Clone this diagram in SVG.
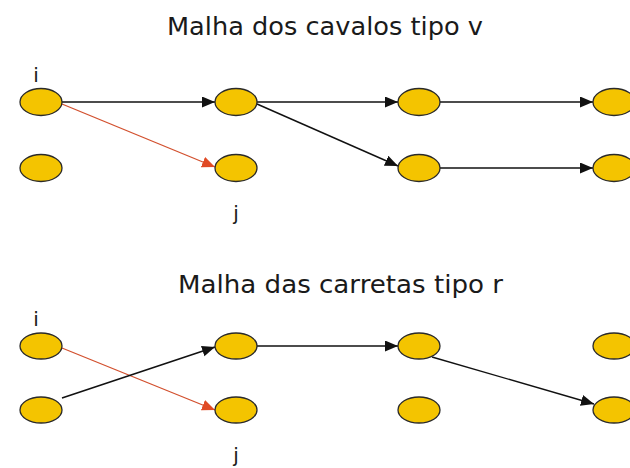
<svg xmlns="http://www.w3.org/2000/svg" width="630" height="468" viewBox="0 0 630 468">
<style>
.n{fill:#f4c400;stroke:#2a2a2a;stroke-width:1.3}
.t{font-family:"DejaVu Sans",Verdana,sans-serif;fill:#1a1a1a}
.k{stroke:#111;stroke-width:1.4;fill:none}
.r{stroke:#d2502e;stroke-width:1.3;fill:none}
</style>
<defs>
<marker id="ak" markerUnits="userSpaceOnUse" markerWidth="14" markerHeight="12" refX="13" refY="5.5" orient="auto"><path d="M0,0 L13,5.5 L0,11 z" fill="#111"/></marker>
<marker id="ar" markerUnits="userSpaceOnUse" markerWidth="14" markerHeight="12" refX="13" refY="5.5" orient="auto"><path d="M0,0 L13,5.5 L0,11 z" fill="#e04a25"/></marker>
</defs>
<text class="t" x="167" y="35" font-size="25" textLength="316" lengthAdjust="spacingAndGlyphs">Malha dos cavalos tipo v</text>
<text class="t" x="178" y="293" font-size="25" textLength="325" lengthAdjust="spacingAndGlyphs">Malha das carretas tipo r</text>
<g id="connectors">
<line class="k" x1="62" y1="102" x2="215" y2="102" marker-end="url(#ak)"/>
<line class="k" x1="257" y1="102" x2="398" y2="102" marker-end="url(#ak)"/>
<line class="k" x1="440" y1="102" x2="593" y2="102" marker-end="url(#ak)"/>
<line class="k" x1="257" y1="104" x2="398" y2="166" marker-end="url(#ak)"/>
<line class="k" x1="440" y1="168" x2="593" y2="168" marker-end="url(#ak)"/>
<line class="r" x1="62" y1="104" x2="215" y2="167" marker-end="url(#ar)"/>
<line class="r" x1="62" y1="348" x2="215" y2="410" marker-end="url(#ar)"/>
<line class="k" x1="62" y1="398" x2="215" y2="347" marker-end="url(#ak)"/>
<line class="k" x1="257" y1="346" x2="398" y2="346" marker-end="url(#ak)"/>
<line class="k" x1="432" y1="357" x2="594" y2="404" marker-end="url(#ak)"/>
</g>
<g id="top-1-1"><ellipse class="n" cx="41" cy="102" rx="21" ry="13.5"/><text class="t" x="36" y="82" font-size="20" text-anchor="middle">i</text></g>
<g id="top-1-2"><ellipse class="n" cx="236" cy="102" rx="21" ry="13.5"/></g>
<g id="top-1-3"><ellipse class="n" cx="419" cy="102" rx="21" ry="13.5"/></g>
<g id="top-1-4"><ellipse class="n" cx="614" cy="102" rx="21" ry="13.5"/></g>
<g id="top-2-1"><ellipse class="n" cx="41" cy="168" rx="21" ry="13.5"/></g>
<g id="top-2-2"><ellipse class="n" cx="236" cy="168" rx="21" ry="13.5"/><text class="t" x="236" y="220" font-size="20" text-anchor="middle">j</text></g>
<g id="top-2-3"><ellipse class="n" cx="419" cy="168" rx="21" ry="13.5"/></g>
<g id="top-2-4"><ellipse class="n" cx="614" cy="168" rx="21" ry="13.5"/></g>
<g id="bot-1-1"><ellipse class="n" cx="41" cy="346" rx="21" ry="13"/><text class="t" x="36" y="326" font-size="20" text-anchor="middle">i</text></g>
<g id="bot-1-2"><ellipse class="n" cx="236" cy="346" rx="21" ry="13"/></g>
<g id="bot-1-3"><ellipse class="n" cx="419" cy="346" rx="21" ry="13"/></g>
<g id="bot-1-4"><ellipse class="n" cx="614" cy="346" rx="21" ry="13"/></g>
<g id="bot-2-1"><ellipse class="n" cx="41" cy="410" rx="21" ry="13"/></g>
<g id="bot-2-2"><ellipse class="n" cx="236" cy="410" rx="21" ry="13"/><text class="t" x="236" y="462" font-size="20" text-anchor="middle">j</text></g>
<g id="bot-2-3"><ellipse class="n" cx="419" cy="410" rx="21" ry="13"/></g>
<g id="bot-2-4"><ellipse class="n" cx="614" cy="410" rx="21" ry="13"/></g>
</svg>
